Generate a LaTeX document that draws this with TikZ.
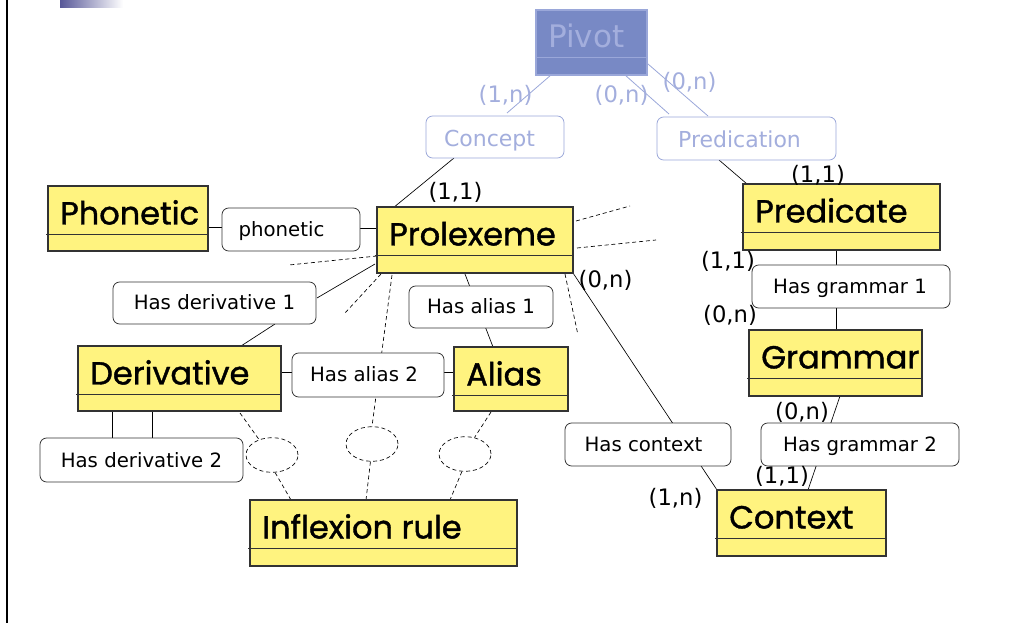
\documentclass[tikz,border=0pt]{standalone}
\usepackage{fontspec}
\setmainfont{DejaVu Sans}
\newfontfamily\entfont[FakeBold=1.2]{Poppins}
\usetikzlibrary{calc,fit,shapes.geometric}
\pgfdeclarelayer{bg}
\pgfsetlayers{bg,main}

\definecolor{entyellow}{HTML}{FFF37F}
\definecolor{entline}{HTML}{333333}
\definecolor{pivotfill}{HTML}{7889C5}
\definecolor{pale}{HTML}{9AA7D9}
\definecolor{paletext}{HTML}{A3AEDD}
\definecolor{barblue}{HTML}{585898}

\tikzset{
  entity/.style={draw=entline, line width=0.8pt, fill=entyellow, inner sep=0pt, outer sep=0pt},
  pivotbox/.style={draw=pale, line width=0.8pt, fill=pivotfill, inner sep=0pt, outer sep=0pt},
  divider/.style={draw=entline, line width=0.6pt},
  enttext/.style={font=\entfont\fontsize{24}{28}\selectfont, inner sep=0pt, text=black},
  rel/.style={draw=entline, line width=0.6pt, fill=white, rounded corners=5pt, inner sep=0pt, outer sep=0pt},
  palerel/.style={draw=pale, line width=0.6pt, fill=white, rounded corners=5pt, inner sep=0pt, outer sep=0pt},
  reltext/.style={font=\fontsize{14.8}{17}\selectfont, inner sep=0pt},
  paletxt/.style={font=\fontsize{16.5}{19}\selectfont, inner sep=0pt, text=paletext},
  card/.style={font=\fontsize{17}{20}\selectfont, inner sep=0pt},
  link/.style={draw=black, line width=0.5pt},
  dlink/.style={link, dash pattern=on 3pt off 2.2pt},
  palelink/.style={draw=pale, line width=0.6pt},
  hole/.style={ellipse, draw=black, dash pattern=on 3pt off 2.2pt, line width=0.5pt,
    minimum width=39pt, minimum height=26pt, inner sep=0pt},
}

% entity: name, x1, y1, x2, y2, title
\newcommand\entitybox[6]{%
  \node[entity, fit={(#2,#3) (#4,#5)}] (#1) {};
  \draw[divider] ($(#1.north west)+(-2,48)$) -- ($(#1.north east)+(0,48)$);
  \node[enttext, anchor=base west] (#1-t) at ($(#1.north west)+(12,38.5)$) {#6};
}
% relationship: name, x1, y1, x2, y2, text shift, text
\newcommand\relbox[7]{%
  \node[rel, fit={(#2,#3) (#4,#5)}] (#1) {};
  \node[reltext, anchor=base] (#1-t) at ($(#1.center)+(#6,7)$) {#7};
}

\begin{document}
\begin{tikzpicture}[x=0.75pt, y=-0.75pt]
\useasboundingbox (0,0) rectangle (1035,623);

% frame edge and title bar
\draw[line width=1.1pt] (7,0) -- (7,623);
\shade[left color=barblue, right color=white] (60,0) rectangle (123,8);

% pivot layer
\node[pivotbox, fit={(536,10) (647,75)}] (piv) {};
\draw[draw=pale, line width=0.6pt] ($(piv.north west)+(-1,47)$) -- ($(piv.north east)+(0,47)$);
\node[font=\fontsize{23.3}{27}\selectfont, text=paletext, inner sep=0pt, anchor=base west]
  (piv-t) at ($(piv.north west)+(12,38)$) {Pivot};

\node[palerel, fit={(426,116) (564,158)}] (con) {};
\node[paletxt, anchor=base] (con-t) at ($(con.center)+(-5.5,9.5)$) {Concept};
\node[palerel, fit={(657,117) (836,160)}] (prd) {};
\node[paletxt, anchor=base] (prd-t) at ($(prd.center)+(-7,9.5)$) {Predication};

% entities
\entitybox{pho}{48}{186}{208}{251}{Phonetic}
\entitybox{pro}{377}{207}{573}{273}{Prolexeme}
\entitybox{pre}{743}{184}{940}{250}{Predicate}
\entitybox{gra}{749}{330}{922}{396}{Grammar}
\entitybox{der}{78}{346}{281}{411}{Derivative}
\entitybox{ali}{454}{347}{568}{411}{Alias}
\entitybox{inf}{250}{500}{517}{566}{Inflexion rule}
\entitybox{ctx}{717}{490}{886}{556}{Context}

% relationships
\relbox{rpho}{222}{208}{360}{251}{-9.5}{phonetic}
\relbox{rder1}{113}{282}{316}{324}{0}{Has derivative 1}
\relbox{rali1}{409}{286}{553}{328}{0}{Has alias 1}
\relbox{rali2}{292}{353}{444}{397}{-4}{Has alias 2}
\relbox{rder2}{40}{438}{243}{482}{0}{Has derivative 2}
\relbox{rctx}{565}{423}{731}{466}{-4.5}{Has context}
\relbox{rgr1}{752}{265}{950}{308}{-1}{Has grammar 1}
\relbox{rgr2}{761}{423}{959}{466}{0}{Has grammar 2}

% unnamed inflexion links
\node[hole] (h1) at (272,455) {};
\node[hole] (h2) at (372,444) {};
\node[hole] (h3) at (465,454) {};

% loose ends of unfinished links
\coordinate (s1) at (630,206);
\coordinate (s2) at (656,240);
\coordinate (s3) at (289,265);
\coordinate (s4) at (345,313);
\coordinate (s5) at (578,335);

\begin{pgfonlayer}{bg}
  \draw[palelink] ($(piv.south west)+(15,0)$) -- ($(con.north west)+(81,-3)$);
  \draw[palelink] ($(piv.south west)+(89,0)$) -- ($(prd.north west)+(12,-3)$);
  \draw[palelink] ($(piv.north east)+(1,54)$) -- ($(prd.north west)+(51,-1)$);

  \draw[link] ($(con.south west)+(28,0)$) -- ($(pro.north west)+(16,1)$);
  \draw[link] ($(prd.south west)+(62,0)$) -- ($(pre.north west)+(4,0)$);
  \draw[link] ($(pho.north east)+(0,41)$) -- ($(rpho.north west)+(0,19)$);
  \draw[link] ($(rpho.north east)+(0,20)$) -- ($(pro.north west)+(0,21)$);
  \draw[link] ($(pro.south west)+(-2,-9)$) -- ($(rder1.north east)+(1,16)$);
  \draw[link] ($(rder1.south west)+(162,0)$) -- ($(der.north west)+(163,0)$);
  \draw[link] ($(der.north east)+(0,26)$) -- ($(rali2.north west)+(0,19)$);
  \draw[link] ($(rali2.north east)+(0,19)$) -- ($(ali.north west)+(0,25)$);
  \draw[link] ($(pro.south west)+(88,1)$) -- ($(ali.north west)+(39,0)$);
  \draw[link] (pro.south east) -- (ctx.north west);
  \draw[link] ($(pre.south west)+(93,0)$) -- ($(gra.north west)+(87,0)$);
  \draw[link] ($(gra.south west)+(91,0)$) -- ($(ctx.north west)+(91,0)$);
  \draw[link] ($(der.south west)+(34,0)$) -- ($(rder2.north west)+(72,0)$);
  \draw[link] ($(der.south west)+(74,0)$) -- ($(rder2.north west)+(112,0)$);

  \draw[dlink] ($(pro.north east)+(3,14)$) -- (s1);
  \draw[dlink] ($(pro.north east)+(4,41)$) -- (s2);
  \draw[dlink] ($(pro.north west)+(0,49)$) -- (s3);
  \draw[dlink] ($(pro.south west)+(4,1)$) -- (s4);
  \draw[dlink] ($(pro.south east)+(-8,1)$) -- (s5);
  \draw[dlink] ($(pro.south west)+(15,2)$) -- (h2.north);
  \draw[dlink] ($(der.south east)+(-41,2)$) -- (h1.130);
  \draw[dlink] (h1.-80) -- ($(inf.north west)+(41,0)$);
  \draw[dlink] (h2.-95) -- ($(inf.north west)+(116,0)$);
  \draw[dlink] ($(ali.south east)+(-77,1)$) -- (h3.60);
  \draw[dlink] (h3.-100) -- ($(inf.north west)+(200,0)$);
\end{pgfonlayer}

% cardinalities
\node[card, text=paletext] (c1) at (505.5,95) {(1,n)};
\node[card, text=paletext] (c2) at (621.5,95) {(0,n)};
\node[card, text=paletext] (c3) at (689.5,82.5) {(0,n)};
\node[card] (c4) at (455.5,192) {(1,1)};
\node[card] (c5) at (818,175) {(1,1)};
\node[card] (c6) at (728,261.5) {(1,1)};
\node[card] (c7) at (730,315.5) {(0,n)};
\node[card] (c8) at (605.5,280.5) {(0,n)};
\node[card] (c9) at (802,412) {(0,n)};
\node[card] (c10) at (782,476) {(1,1)};
\node[card] (c11) at (675.5,498) {(1,n)};
\end{tikzpicture}
\end{document}
